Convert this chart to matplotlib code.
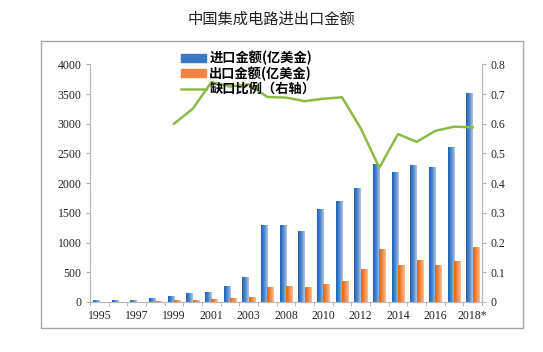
import numpy as np
import matplotlib
matplotlib.use("Agg")
import matplotlib.pyplot as plt
from matplotlib.patches import Rectangle
from matplotlib.lines import Line2D
from matplotlib.colors import LinearSegmentedColormap

# data
years = ["1995", "1996", "1997", "1998", "1999", "2000", "2001", "2002", "2003",
         "2007", "2008", "2009", "2010", "2011", "2012", "2013", "2014", "2015",
         "2016", "2017", "2018*"]
imports = [35, 35, 35, 60, 95, 155, 175, 270, 415, 1290, 1290, 1200, 1570, 1700,
           1920, 2320, 2180, 2300, 2270, 2600, 3510]
exports = [5, 5, 5, 10, 40, 40, 45, 65, 85, 245, 262, 248, 300, 345, 550, 885,
           615, 700, 615, 685, 925]
gap_ratio = [np.nan, np.nan, np.nan, np.nan, 0.60, 0.65, 0.74, 0.725, 0.733,
             0.69, 0.688, 0.676, 0.684, 0.689, 0.585, 0.452, 0.565, 0.539,
             0.576, 0.59, 0.588]

CJK = ["Noto Sans CJK SC", "DejaVu Sans"]
SERIF = "Liberation Serif"
BLUE_CM = LinearSegmentedColormap.from_list("b", ["#1d5fb8", "#4f8ad0", "#b4c8e0"])
ORANGE_CM = LinearSegmentedColormap.from_list("o", ["#e4640f", "#f08a45", "#f6c29c"])

fig = plt.figure(figsize=(5.43, 3.52), dpi=100)
fig.patches.append(Rectangle((41 / 543, 1 - 328 / 352), 482 / 543, 287 / 352,
                             transform=fig.transFigure, fill=False,
                             edgecolor="#a6a6a6", lw=1.0))
fig.text(0.5, 1 - 19 / 352, "中国集成电路进出口金额", ha="center", va="center",
         fontsize=11, family=CJK, color="#222")

ax = fig.add_axes([90 / 543, 1 - 302 / 352, 392 / 543, 237.7 / 352])
x = np.arange(len(years))
w = 0.34


def gradient_bars(bars, cmap):
    grad = np.linspace(0, 1, 64).reshape(1, -1)
    for b in bars:
        x0, y0 = b.get_x(), b.get_y()
        im = ax.imshow(grad, cmap=cmap, aspect="auto", zorder=2,
                       extent=[x0, x0 + b.get_width(), y0, y0 + b.get_height()])
        im.set_clip_path(b)
        b.set_alpha(0)


b1 = ax.bar(x - w / 2, imports, w, color="#3a78c8", zorder=2)
b2 = ax.bar(x + w / 2, exports, w, color="#ef8540", zorder=2)
gradient_bars(b1, BLUE_CM)
gradient_bars(b2, ORANGE_CM)

ax.set_xlim(-0.5, len(years) - 0.5)
ax.set_ylim(0, 4000)
ax.set_yticks(np.arange(0, 4001, 500))
ax.set_xticks(x)
ax.set_xticklabels([y if i % 2 == 0 else "" for i, y in enumerate(years)])
ax.set_xticks(np.arange(-0.5, len(years)), minor=True)
ax.tick_params(axis="x", which="major", length=0, pad=6)
ax.tick_params(axis="x", which="minor", length=3, color="#b0b0b0")
ax.tick_params(axis="y", length=3, color="#b0b0b0", pad=3)

ax2 = ax.twinx()
ax2.plot(x, gap_ratio, color="#8dba45", lw=1.8, zorder=3)
ax2.set_ylim(0, 0.8)
ax2.set_yticks(np.arange(0, 0.81, 0.1))
ax2.set_yticklabels(["0"] + [f"{v:.1f}" for v in np.arange(0.1, 0.81, 0.1)])
ax2.tick_params(axis="y", length=3, color="#b0b0b0", pad=3)

for a in (ax, ax2):
    a.spines["top"].set_visible(False)
    for s in ("left", "right", "bottom"):
        a.spines[s].set_color("#b8b8b8")
    for lab in a.get_xticklabels() + a.get_yticklabels():
        lab.set_fontfamily(SERIF)
        lab.set_fontsize(8.5)
        lab.set_color("#222")

handles = [Rectangle((0, 0), 1, 1, color="#3a78c8"),
           Rectangle((0, 0), 1, 1, color="#ef8540"),
           Line2D([], [], color="#8dba45", lw=1.8)]
labels = ["进口金额(亿美金)", "出口金额(亿美金)", "缺口比例（右轴）"]
fig.legend(handles, labels, loc="upper left",
           bbox_to_anchor=(181 / 543, 1 - 51 / 352), frameon=False,
           prop={"family": CJK, "size": 9.5, "weight": "bold"},
           handlelength=1.9, handleheight=0.55, handletextpad=0.25,
           labelspacing=0.08, borderpad=0, borderaxespad=0)

fig.savefig("out.png", dpi=100)
